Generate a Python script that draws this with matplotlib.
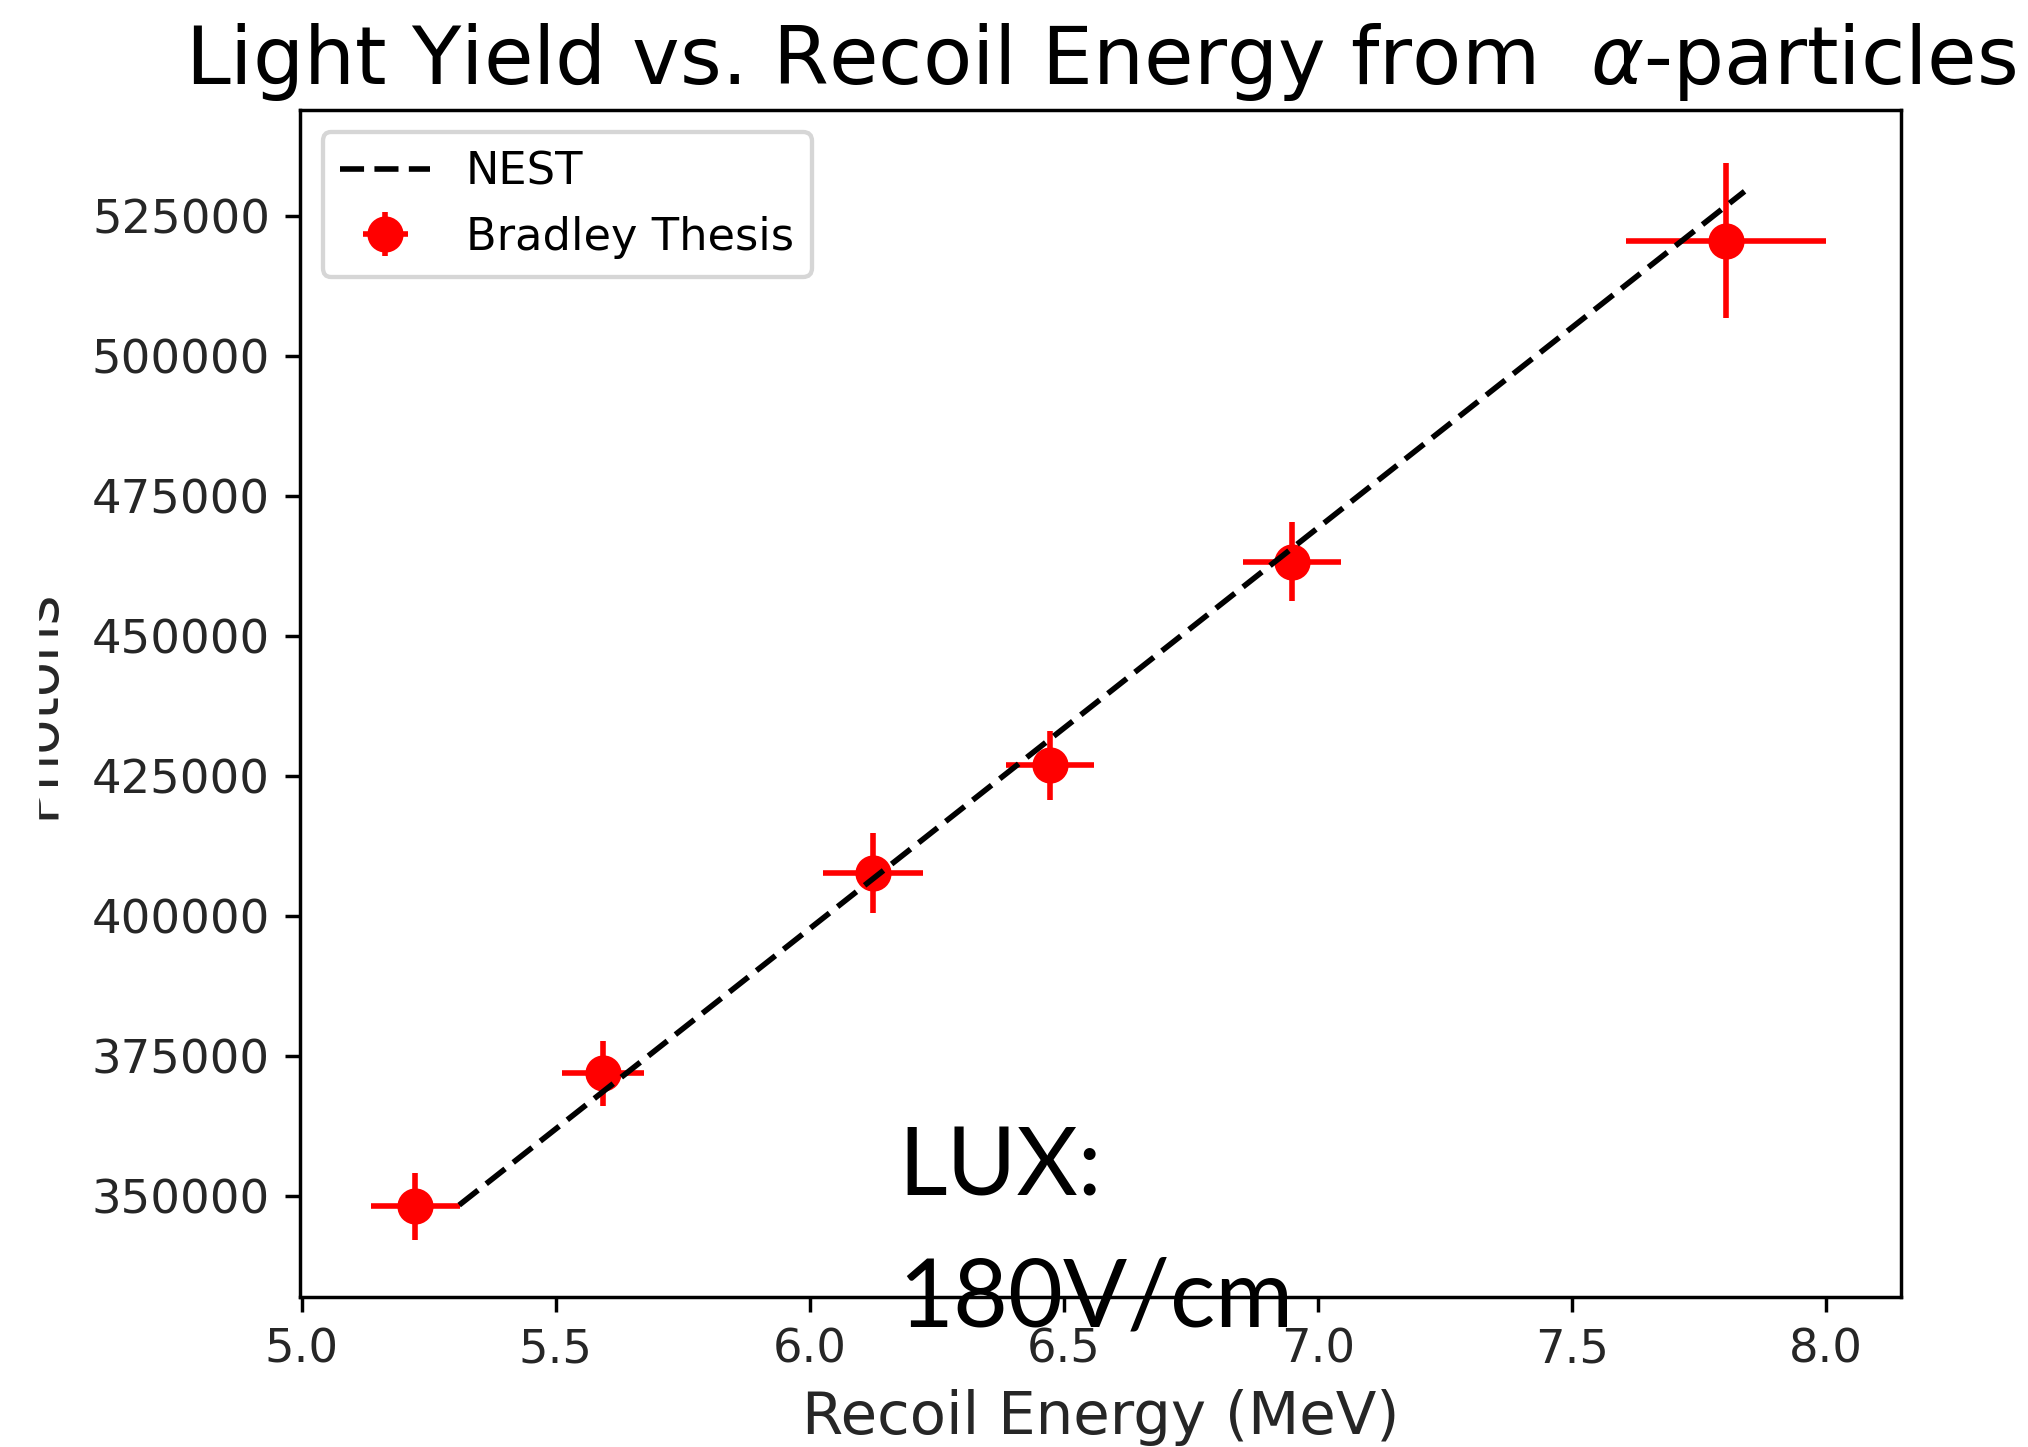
import matplotlib
matplotlib.use("Agg")
import matplotlib.pyplot as plt
from matplotlib.patches import Rectangle

# Bradley thesis alpha points
energy = [5.224, 5.593, 6.125, 6.473, 6.949, 7.804]
energy_err = [0.087, 0.080, 0.098, 0.087, 0.097, 0.197]
photons = [348150, 371900, 407700, 426900, 463300, 520600]
photons_err = [6000, 5800, 7200, 6200, 7000, 13800]

# NEST prediction (straight line)
nest_energy = [5.31, 7.84]
nest_photons = [348400, 529400]

yticks = [350000, 375000, 400000, 425000, 450000, 475000, 500000, 525000]
xticks = [5.0, 5.5, 6.0, 6.5, 7.0, 7.5, 8.0]

dpi = 310
fig = plt.figure(figsize=(2028 / dpi, 1447 / dpi), dpi=dpi)
ax = fig.add_axes([0.148, 0.1037, 0.7894, 0.8203])

ax.plot(nest_energy, nest_photons, "k--", lw=1.3, dashes=(4.3, 1.85),
        label="NEST", zorder=3)
ax.errorbar(energy, photons, xerr=energy_err, yerr=photons_err, fmt="o",
            color="red", ms=7.4, elinewidth=1.3, label="Bradley Thesis", zorder=2)

ax.set_xlim(4.997, 8.148)
ax.set_ylim(332000, 543930)
ax.set_xticks(xticks)
ax.set_yticks(yticks)
ax.tick_params(labelsize=10.8, labelcolor="#262626")

ax.set_title("Light Yield vs. Recoil Energy from  $\\alpha$-particles",
             fontsize=18.7, pad=6)
ax.set_xlabel("Recoil Energy (MeV)", fontsize=13.8, color="#262626")
ax.set_ylabel("Photons", fontsize=13.4, color="#262626")
ax.yaxis.set_label_coords(-0.1465, 0.5)

ax.legend(loc="upper left", fontsize=10.4)

fig.text(0.443, 0.1735, "LUX:", family="Lato", fontsize=22, va="baseline")
fig.text(0.443, 0.0836, "180V/cm", family="Lato", fontsize=22, va="baseline")

# the reference is cropped on the left edge
fig.add_artist(Rectangle((0, 0), 37 / 2028, 1, transform=fig.transFigure,
                         color="white", zorder=10))

fig.savefig("out.png", dpi=dpi)
